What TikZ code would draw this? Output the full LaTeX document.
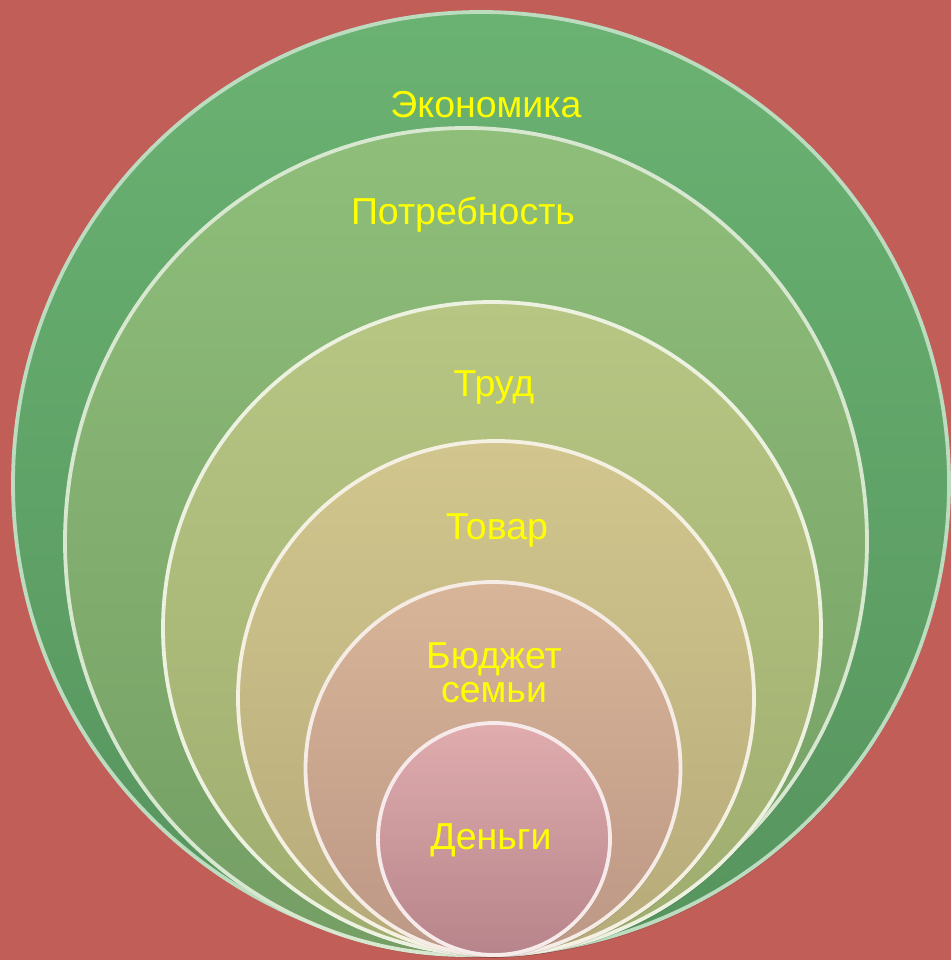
\documentclass[tikz,border=0pt]{standalone}
\usepackage{fontspec}
\setmainfont{Liberation Sans}
\definecolor{bg}{RGB}{193,94,88}
\definecolor{aT}{RGB}{106,178,114}\definecolor{aB}{RGB}{86,148,94}
\definecolor{bT}{RGB}{143,190,122}\definecolor{bB}{RGB}{116,158,100}
\definecolor{cT}{RGB}{184,198,132}\definecolor{cB}{RGB}{158,172,110}
\definecolor{dT}{RGB}{210,198,142}\definecolor{dB}{RGB}{182,170,122}
\definecolor{eT}{RGB}{216,180,152}\definecolor{eB}{RGB}{188,152,134}
\definecolor{fT}{RGB}{224,172,174}\definecolor{fB}{RGB}{182,132,138}
\definecolor{txt}{RGB}{255,255,0}
\begin{document}
\begin{tikzpicture}[x=1pt,y=-1pt,
  lbl/.style={text=txt, font=\fontsize{37.5}{34}\selectfont, align=center, inner sep=0pt},
  rim/.style={line width=3.8pt},
  shadow/.style={fill=black, opacity=0.12}]
\fill[bg] (0,0) rectangle (951,960);
\useasboundingbox (0,0) rectangle (951,960);
% Экономика
\fill[shadow] (482,486) ellipse [x radius=468pt, y radius=471.5pt];
\shade[top color=aT, bottom color=aB] (481,483.5) ellipse [x radius=468pt, y radius=471.5pt];
\draw[rim, draw=aT!45!white] (481,483.5) ellipse [x radius=468pt, y radius=471.5pt];
% Потребность
\fill[shadow] (467,544) ellipse [x radius=401pt, y radius=413.5pt];
\shade[top color=bT, bottom color=bB] (466,541.5) ellipse [x radius=401pt, y radius=413.5pt];
\draw[rim, draw=bT!35!white] (466,541.5) ellipse [x radius=401pt, y radius=413.5pt];
% Труд
\fill[shadow] (493,631) ellipse [x radius=329pt, y radius=326.5pt];
\shade[top color=cT, bottom color=cB] (492,628.5) ellipse [x radius=329pt, y radius=326.5pt];
\draw[rim, draw=cT!25!white] (492,628.5) ellipse [x radius=329pt, y radius=326.5pt];
% Товар
\fill[shadow] (497,700.5) ellipse [x radius=258pt, y radius=257pt];
\shade[top color=dT, bottom color=dB] (496,698) ellipse [x radius=258pt, y radius=257pt];
\draw[rim, draw=dT!25!white] (496,698) ellipse [x radius=258pt, y radius=257pt];
% Бюджет семьи
\fill[shadow] (494,771) ellipse [x radius=187.5pt, y radius=186.5pt];
\shade[top color=eT, bottom color=eB] (493,768.5) ellipse [x radius=187.5pt, y radius=186.5pt];
\draw[rim, draw=eT!25!white] (493,768.5) ellipse [x radius=187.5pt, y radius=186.5pt];
% Деньги
\fill[shadow] (495,841.5) ellipse [x radius=116pt, y radius=116pt];
\shade[top color=fT, bottom color=fB] (494,839) ellipse [x radius=116pt, y radius=116pt];
\draw[rim, draw=fT!25!white] (494,839) ellipse [x radius=116pt, y radius=116pt];
% labels
\node[lbl] (n1) at (486,105) {Экономика};
\node[lbl] (n2) at (463,215) {Потребность};
\node[lbl] (n3) at (494,387) {Труд};
\node[lbl] (n4) at (497,530) {Товар};
\node[lbl] (n5) at (494,673) {Бюджет\\семьи};
\node[lbl] (n6) at (491,840) {Деньги};
\end{tikzpicture}
\end{document}
